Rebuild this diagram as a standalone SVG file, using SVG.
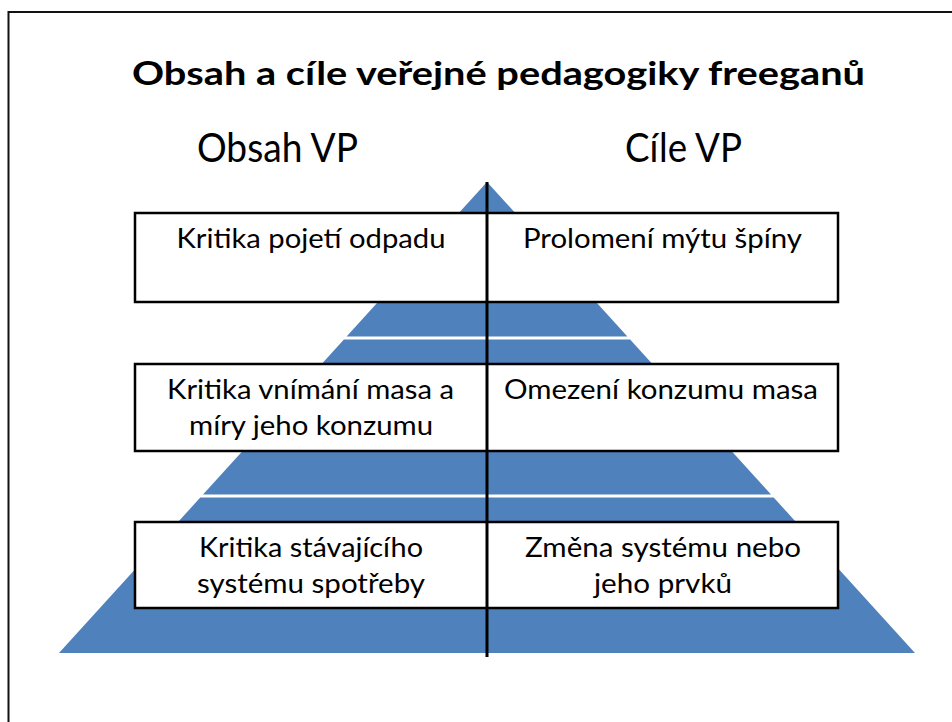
<svg xmlns="http://www.w3.org/2000/svg" width="952" height="722" viewBox="0 0 952 722">
<style>
.title{font-family:Lato,"Open Sans","Liberation Sans",sans-serif;font-weight:bold;font-size:32px;fill:#000;text-anchor:middle}
.head{font-family:Lato,"Open Sans","Liberation Sans",sans-serif;font-size:40px;fill:#000;text-anchor:middle}
.txt{font-family:Lato,"Open Sans","Liberation Sans",sans-serif;font-size:27px;fill:#000;text-anchor:middle}
.seg{fill:#4F81BD;stroke:none}
.box{fill:#fff;stroke:#000;stroke-width:2.5}
.frame{fill:none;stroke:#111;stroke-width:2}
.divider{stroke:#000;stroke-width:3;fill:none}
</style>
<rect width="952" height="722" fill="#fff"/>
<path class="frame" d="M8.5 722 L8.5 12 L952 12"/>
<g id="title">
<text class="title" x="498.5" y="85" textLength="733" lengthAdjust="spacingAndGlyphs">Obsah a cíle veřejné pedagogiky freeganů</text>
</g>
<g id="heading-obsah"><text class="head" x="277.5" y="162" textLength="161" lengthAdjust="spacingAndGlyphs">Obsah VP</text></g>
<g id="heading-cile"><text class="head" x="683.5" y="162" textLength="117" lengthAdjust="spacingAndGlyphs">Cíle VP</text></g>
<g id="pyramid">
<polygon class="seg" points="487,182 627.4,336.5 346.6,336.5"/>
<polygon class="seg" points="343.9,339.5 630.1,339.5 771,494.5 203,494.5"/>
<polygon class="seg" points="200.3,497.5 773.7,497.5 915,653 59,653"/>
</g>
<g id="box1">
<rect class="box" x="135" y="213" width="703" height="89"/>
<text class="txt" x="311" y="248" textLength="269" lengthAdjust="spacingAndGlyphs">Kritika pojetí odpadu</text>
<text class="txt" x="662.5" y="248" textLength="279" lengthAdjust="spacingAndGlyphs">Prolomení mýtu špíny</text>
</g>
<g id="box2">
<rect class="box" x="135" y="364" width="703" height="87"/>
<text class="txt" x="310.5" y="399" textLength="287" lengthAdjust="spacingAndGlyphs">Kritika vnímání masa a</text>
<text class="txt" x="311" y="435" textLength="244" lengthAdjust="spacingAndGlyphs">míry jeho konzumu</text>
<text class="txt" x="661" y="399" textLength="314" lengthAdjust="spacingAndGlyphs">Omezení konzumu masa</text>
</g>
<g id="box3">
<rect class="box" x="135" y="522" width="703" height="86"/>
<text class="txt" x="311" y="557" textLength="224" lengthAdjust="spacingAndGlyphs">Kritika stávajícího</text>
<text class="txt" x="311" y="593" textLength="228" lengthAdjust="spacingAndGlyphs">systému spotřeby</text>
<text class="txt" x="663" y="557" textLength="276" lengthAdjust="spacingAndGlyphs">Změna systému nebo</text>
<text class="txt" x="663" y="593" textLength="138" lengthAdjust="spacingAndGlyphs">jeho prvků</text>
</g>
<g id="connectors">
<line class="divider" x1="487" y1="182" x2="487" y2="657"/>
</g>
</svg>
